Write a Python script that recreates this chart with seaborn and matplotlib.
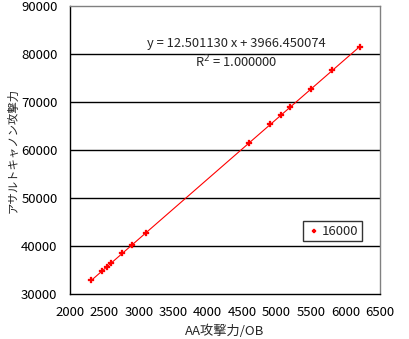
import numpy as np
import pandas as pd
import matplotlib
matplotlib.use("Agg")
import matplotlib.pyplot as plt
import seaborn as sns

# AA attack power / OB versus assault cannon attack power
aa_power = [2310, 2460, 2540, 2600, 2760, 2905, 3100,
            4600, 4910, 5065, 5200, 5505, 5810, 6205]
cannon_power = [32844, 34719, 35719, 36469, 38469, 40281, 42719,
                61472, 65347, 67285, 68972, 72785, 76597, 81535]
series_name = "16000"

# linear trendline coefficients
slope = 12.501130
intercept = 3966.450074
r_squared = 1.000000

x_ticks = [2000, 2500, 3000, 3500, 4000, 4500, 5000, 5500, 6000, 6500]
y_ticks = [30000, 40000, 50000, 60000, 70000, 80000, 90000]

sns.set_theme(style="white")
plt.rcParams["font.family"] = ["Noto Sans CJK JP", "DejaVu Sans"]

df = pd.DataFrame({"x": aa_power, "y": cannon_power})
trend_x = np.array([min(aa_power), max(aa_power)])
trend = pd.DataFrame({"x": trend_x, "y": slope * trend_x + intercept})

fig = plt.figure(figsize=(4.09, 3.39), dpi=100)
ax = fig.add_axes([70 / 409, 45 / 339, 310 / 409, 288 / 339])

for yv in y_ticks[1:-1]:
    ax.axhline(yv, color="black", lw=1.0, zorder=1)

sns.lineplot(data=trend, x="x", y="y", ax=ax, color="red", lw=0.8,
             legend=False, zorder=2)
sns.scatterplot(data=df, x="x", y="y", ax=ax, color="red", marker="P",
                s=18, edgecolor="red", linewidth=0.2, label=series_name,
                zorder=3)

ax.set_xlim(2000, 6500)
ax.set_ylim(30000, 90000)
ax.set_xticks(x_ticks)
ax.set_yticks(y_ticks)
ax.tick_params(axis="both", labelsize=9.5, colors="black", length=3,
               width=1, direction="out", pad=3)
ax.tick_params(axis="x", pad=6)
ax.tick_params(axis="y", length=0, pad=9)

for side in ("left", "bottom"):
    ax.spines[side].set_color("black")
    ax.spines[side].set_linewidth(1.0)
for side in ("top", "right"):
    ax.spines[side].set_color("#808080")
    ax.spines[side].set_linewidth(1.0)

ax.set_xlabel("AA攻撃力/OB", fontsize=9.5, labelpad=4)
ax.set_ylabel("アサルトキャノン攻撃力", fontsize=8.2, labelpad=2)

ax.text(4410, 82100, f"y = {slope:.6f} x + {intercept:.6f}",
        ha="center", va="center", fontsize=9.3)
ax.text(4410, 78300, f"R$^2$ = {r_squared:.6f}",
        ha="center", va="center", fontsize=9.3)

leg = ax.legend(loc="lower right", bbox_to_anchor=(0.942, 0.184),
                borderaxespad=0, fontsize=9.5, frameon=True, fancybox=False,
                handletextpad=0.0, borderpad=0.25, handlelength=1.2,
                markerscale=0.8)
leg.get_frame().set_edgecolor("black")
leg.get_frame().set_linewidth(1.0)

fig.savefig("out.png", dpi=100)
